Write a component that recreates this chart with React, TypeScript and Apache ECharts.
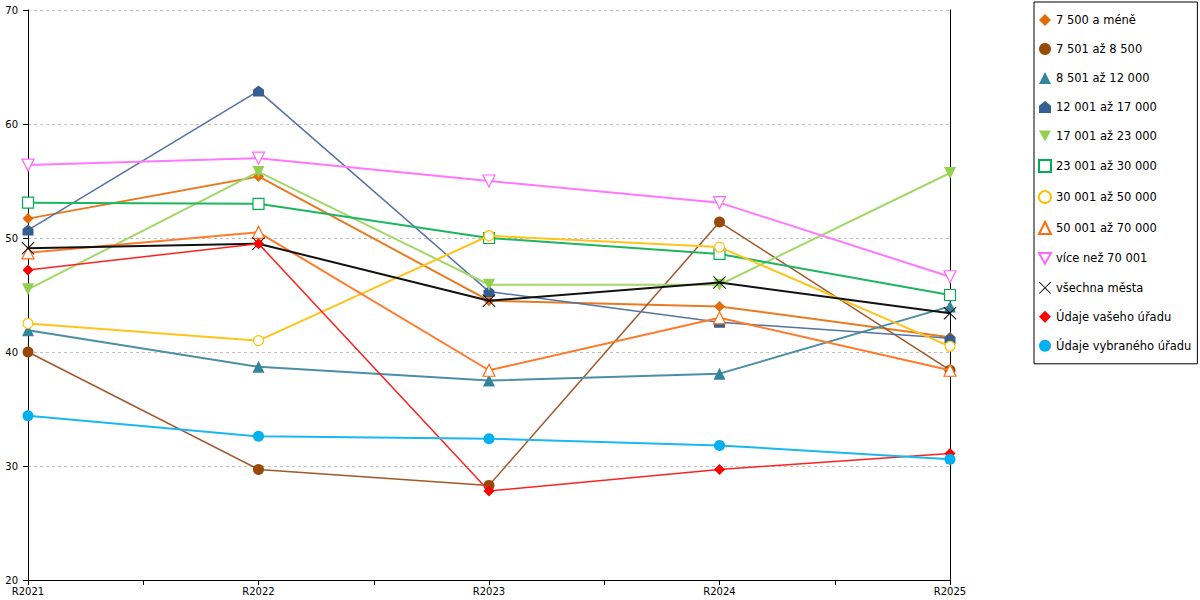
import React, { useEffect, useRef } from "react";
import * as echarts from "echarts";

const years = ["R2021", "R2022", "R2023", "R2024", "R2025"];
const names = [
  "7 500 a méně",
  "7 501 až 8 500",
  "8 501 až 12 000",
  "12 001 až 17 000",
  "17 001 až 23 000",
  "23 001 až 30 000",
  "30 001 až 50 000",
  "50 001 až 70 000",
  "více než 70 001",
  "všechna města",
  "Údaje vašeho úřadu",
  "Údaje vybraného úřadu",
];
const s7500 = [51.7, 55.4, 44.5, 44.0, 41.3];
const s7501 = [40.0, 29.7, 28.3, 51.4, 38.4];
const s8501 = [41.9, 38.7, 37.5, 38.1, 44.0];
const s12001 = [50.7, 62.9, 45.3, 42.6, 41.2];
const s17001 = [45.5, 55.8, 45.9, 45.9, 55.7];
const s23001 = [53.1, 53.0, 50.0, 48.6, 45.0];
const s30001 = [42.5, 41.0, 50.2, 49.2, 40.5];
const s50001 = [48.7, 50.5, 38.4, 43.0, 38.4];
const s70001 = [56.4, 57.0, 55.0, 53.1, 46.6];
const sAll = [49.1, 49.5, 44.5, 46.1, 43.4];
const sYour = [47.2, 49.5, 27.8, 29.7, 31.1];
const sSel = [34.4, 32.6, 32.4, 31.8, 30.6];
const yTicks = [20, 30, 40, 50, 60, 70];

const HOUSE = "path://M0,4 L5,0 L10,4 L10,10 L0,10 Z";
const DOWN = "path://M0,0 L10,0 L5,9 Z";
const CROSS =
  "path://M0,0.5 L0.5,0 L5,4.5 L9.5,0 L10,0.5 L5.5,5 L10,9.5 L9.5,10 L5,5.5 L0.5,10 L0,9.5 L4.5,5 Z";

type Cfg = {
  data: number[];
  color: string;
  line: string;
  width: number;
  symbol: string;
  size: number;
  empty?: boolean;
};

const cfgs: Cfg[] = [
  { data: s7500, color: "#E36C09", line: "#E87B22", width: 2, symbol: "diamond", size: 11 },
  { data: s7501, color: "#984807", line: "#A0582A", width: 1.5, symbol: "circle", size: 11 },
  { data: s8501, color: "#31849B", line: "#4A8FA3", width: 2, symbol: "triangle", size: 12 },
  { data: s12001, color: "#365F91", line: "#5373A0", width: 1.5, symbol: HOUSE, size: 11 },
  { data: s17001, color: "#92D050", line: "#A2D86A", width: 2, symbol: DOWN, size: 12 },
  { data: s23001, color: "#00B050", line: "#1DB65E", width: 2, symbol: "rect", size: 11, empty: true },
  { data: s30001, color: "#FFC000", line: "#FFC31A", width: 2, symbol: "circle", size: 10, empty: true },
  { data: s50001, color: "#FF6A10", line: "#FF7A2A", width: 2, symbol: "triangle", size: 12, empty: true },
  { data: s70001, color: "#FF66FF", line: "#FF77FF", width: 2, symbol: DOWN, size: 12, empty: true },
  { data: sAll, color: "#000000", line: "#111111", width: 2, symbol: CROSS, size: 13 },
  { data: sYour, color: "#FF0000", line: "#FF2020", width: 1.5, symbol: "diamond", size: 11 },
  { data: sSel, color: "#00B0F0", line: "#1AB8F2", width: 2, symbol: "circle", size: 11 },
];

const FONT = "DejaVu Sans";

export default function App() {
  const ref = useRef<HTMLDivElement>(null);
  useEffect(() => {
    if (!ref.current) return;
    const chart = echarts.init(ref.current, undefined, { renderer: "svg" });
    const series = cfgs.map((c, i) => ({
      name: names[i],
      type: "line",
      data: c.data.map((v, k) => [k, v]),
      symbol: c.symbol,
      symbolSize: c.size,
      showAllSymbol: true,
      lineStyle: { color: c.line, width: c.width },
      itemStyle: c.empty
        ? { color: "#ffffff", borderColor: c.color, borderWidth: 1.2 }
        : { color: c.color, borderWidth: 0 },
      emphasis: { disabled: true },
      z: 2 + i,
    }));
    chart.setOption({
      animation: false,
      textStyle: { fontFamily: FONT },
      grid: { left: 28, right: 250, top: 10, bottom: 20, containLabel: false },
      xAxis: {
        type: "value",
        min: 0,
        max: years.length - 1,
        interval: 0.5,
        axisLine: { show: true, lineStyle: { color: "#000", width: 1 } },
        axisTick: { show: true, length: 5, lineStyle: { color: "#000" } },
        splitLine: { show: false },
        axisLabel: {
          color: "#000",
          fontSize: 10,
          fontFamily: FONT,
          margin: 6,
          showMinLabel: true,
          showMaxLabel: true,
          formatter: (v: number) => (Number.isInteger(v) ? years[v] : ""),
        },
      },
      yAxis: [
        {
          type: "value",
          min: yTicks[0],
          max: yTicks[yTicks.length - 1],
          interval: 10,
          axisLine: { show: true, lineStyle: { color: "#000", width: 1 } },
          axisTick: { show: true, length: 5, lineStyle: { color: "#000" } },
          splitLine: { show: true, lineStyle: { color: "#C0C0C0", type: [3, 3] } },
          axisLabel: { color: "#000", fontSize: 10, fontFamily: FONT, margin: 10 },
        },
        {
          type: "value",
          position: "right",
          min: yTicks[0],
          max: yTicks[yTicks.length - 1],
          interval: 10,
          axisLine: { show: true, lineStyle: { color: "#000", width: 1 } },
          axisTick: { show: false },
          splitLine: { show: false },
          axisLabel: { show: false },
        },
      ],
      legend: {
        orient: "vertical",
        left: 1034,
        top: 2,
        padding: [12, 6, 12, 4],
        itemWidth: 12,
        itemHeight: 12,
        itemGap: 17,
        borderColor: "#000",
        borderWidth: 1,
        textStyle: { color: "#000", fontSize: 11.5, fontFamily: FONT },
        data: names.map((n, i) => ({ name: n, icon: cfgs[i].symbol })),
      },
      series,
    });
    return () => chart.dispose();
  }, []);
  return (
    <div
      ref={ref}
      style={{ position: "fixed", left: 0, top: 0, width: 1200, height: 600, background: "#fff" }}
    />
  );
}
